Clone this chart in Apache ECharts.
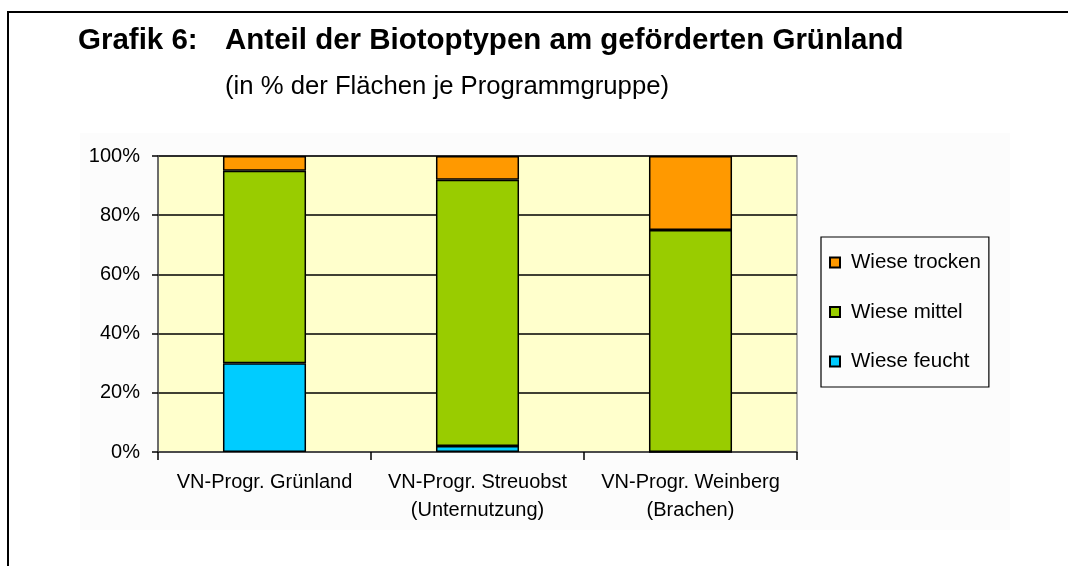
<!DOCTYPE html>
<html>
<head>
<meta charset="utf-8">
<script src="https://cdn.jsdelivr.net/npm/echarts@6/dist/echarts.min.js"></script>
<style>html,body{margin:0;padding:0;background:#fff}#c{width:1068px;height:566px}</style>
</head>
<body>
<div id="c"></div>
<script>
const categories = ['VN-Progr. Grünland', 'VN-Progr. Streuobst\n(Unternutzung)', 'VN-Progr. Weinberg\n(Brachen)'];
const seriesNames = ['Wiese feucht', 'Wiese mittel', 'Wiese trocken'];
const wieseFeucht = [30, 2, 0];
const wieseMittel = [65, 90, 75];
const wieseTrocken = [5, 8, 25];
const yTicks = [0, 20, 40, 60, 80, 100];
const titleLabel = 'Grafik 6:';
const titleText = 'Anteil der Biotoptypen am geförderten Grünland';
const subtitleText = '(in % der Flächen je Programmgruppe)';

const FONT = '"Liberation Sans", Arial, sans-serif';
const colors = ['#00CCFF', '#99CC00', '#FF9900'];
const values = [wieseFeucht, wieseMittel, wieseTrocken];

const chart = echarts.init(document.getElementById('c'), null, {renderer: 'canvas'});
chart.setOption({
  animation: false,
  backgroundColor: '#ffffff',
  textStyle: {fontFamily: FONT},
  graphic: [
    {type: 'rect', z: -10, shape: {x: 80, y: 133, width: 930, height: 397}, style: {fill: '#FCFCFC'}},
    {type: 'line', shape: {x1: 8, y1: 12, x2: 1068, y2: 12}, style: {stroke: '#000', lineWidth: 2}},
    {type: 'line', shape: {x1: 8, y1: 11, x2: 8, y2: 566}, style: {stroke: '#000', lineWidth: 2}},
    {type: 'text', left: 78, top: 26, style: {text: titleLabel, font: 'bold 29.5px ' + FONT, fill: '#000'}},
    {type: 'text', left: 225, top: 26, style: {text: titleText, font: 'bold 29.5px ' + FONT, fill: '#000'}},
    {type: 'text', left: 225, top: 74, style: {text: subtitleText, font: '25.7px ' + FONT, fill: '#000'}}
  ],
  grid: {left: 158, right: 271, top: 156, bottom: 114, show: true, backgroundColor: '#FFFFCC', borderColor: '#9a9a9a', borderWidth: 1.5},
  legend: {
    orient: 'vertical', left: 821, top: 237,
    data: ['Wiese trocken', 'Wiese mittel', 'Wiese feucht'],
    itemWidth: 10, itemHeight: 10, itemGap: 28.5,
    padding: [15, 8, 15, 8],
    borderColor: '#000', borderWidth: 1.2,
    icon: 'rect',
    textStyle: {fontSize: 20.5, color: '#000', fontFamily: FONT, padding: [0, 0, 0, 6]}
  },
  xAxis: {
    type: 'category', data: categories,
    axisLine: {show: true, lineStyle: {color: '#555', width: 1.5}},
    axisTick: {show: true, length: 8, lineStyle: {color: '#000', width: 1.5}},
    axisLabel: {interval: 0, fontSize: 20, color: '#000', lineHeight: 28, margin: 16, fontFamily: FONT}
  },
  yAxis: {
    type: 'value', min: 0, max: 100, interval: 20,
    axisLine: {show: true, lineStyle: {color: '#555', width: 1.5}},
    axisTick: {show: true, length: 6, lineStyle: {color: '#000', width: 1.5}},
    axisLabel: {fontSize: 20, color: '#000', margin: 18, fontFamily: FONT,
      formatter: v => yTicks.includes(v) ? v + '%' : ''},
    splitLine: {show: true, lineStyle: {color: '#000', width: 1.5}}
  },
  series: seriesNames.map((n, i) => ({
    name: n, type: 'bar', stack: 'total', data: values[i], barWidth: '39%',
    itemStyle: {color: colors[i], borderColor: '#000', borderWidth: 1.5}
  }))
});
</script>
</body>
</html>
